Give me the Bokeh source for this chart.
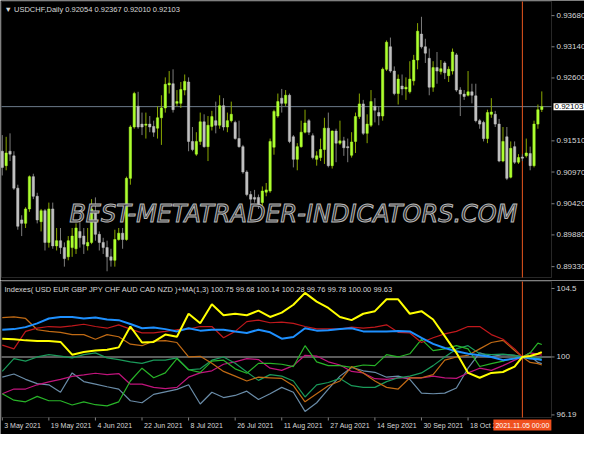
from bokeh.plotting import figure
from bokeh.models import Range1d, Label, ColumnDataSource, BoxAnnotation
from bokeh.core.properties import value
from bokeh.layouts import column
from bokeh.embed import file_html
from bokeh.resources import INLINE

# ---------------- data ----------------
symbol = "USDCHF,Daily"

opens = [0.9133, 0.9108, 0.9133, 0.9125, 0.9069, 0.9014, 0.9008, 0.9033, 0.9089, 0.9055,
         0.9011, 0.9030, 0.8975, 0.9033, 0.8969, 0.8978, 0.8966, 0.8950, 0.8966, 0.8964,
         0.8994, 0.8986, 0.8969, 0.8975, 0.9028, 0.8989, 0.8975, 0.8966, 0.8950, 0.8944,
         0.8980, 0.8991, 0.8980, 0.9086, 0.9175, 0.9211, 0.9180, 0.9178, 0.9180, 0.9176,
         0.9173, 0.9191, 0.9208, 0.9248, 0.9250, 0.9216, 0.9216, 0.9239, 0.9253, 0.9150,
         0.9128, 0.9150, 0.9184, 0.9141, 0.9176, 0.9186, 0.9178, 0.9212, 0.9175, 0.9186,
         0.9183, 0.9155, 0.9141, 0.9097, 0.9058, 0.9053, 0.9053, 0.9044, 0.9062, 0.9064,
         0.9140, 0.9194, 0.9225, 0.9216, 0.9230, 0.9158, 0.9119, 0.9141, 0.9166, 0.9186,
         0.9160, 0.9119, 0.9122, 0.9136, 0.9173, 0.9108, 0.9168, 0.9147, 0.9151, 0.9141,
         0.9126, 0.9150, 0.9193, 0.9215, 0.9164, 0.9178, 0.9211, 0.9200, 0.9194, 0.9275,
         0.9314, 0.9272, 0.9233, 0.9246, 0.9241, 0.9236, 0.9255, 0.9291, 0.9336, 0.9314,
         0.9294, 0.9244, 0.9278, 0.9271, 0.9286, 0.9264, 0.9272, 0.9300, 0.9239, 0.9232,
         0.9230, 0.9236, 0.9229, 0.9186, 0.9183, 0.9155, 0.9197, 0.9197, 0.9180, 0.9116,
         0.9158, 0.9088, 0.9141, 0.9114, 0.9123, 0.9125, 0.9129, 0.9108, 0.9180, 0.92054]
highs = [0.9161, 0.9158, 0.9164, 0.9133, 0.9075, 0.9022, 0.9036, 0.9091, 0.9094, 0.9061,
         0.9033, 0.9033, 0.9044, 0.9044, 0.9000, 0.9000, 0.8975, 0.8986, 0.9000, 0.9008,
         0.9022, 0.9000, 0.9000, 0.9050, 0.9053, 0.8994, 0.8983, 0.8978, 0.8964, 0.8997,
         0.9000, 0.9000, 0.9089, 0.9178, 0.9236, 0.9236, 0.9200, 0.9200, 0.9194, 0.9186,
         0.9211, 0.9230, 0.9261, 0.9272, 0.9275, 0.9239, 0.9253, 0.9266, 0.9261, 0.9175,
         0.9166, 0.9200, 0.9197, 0.9194, 0.9203, 0.9219, 0.9230, 0.9225, 0.9200, 0.9219,
         0.9186, 0.9186, 0.9144, 0.9100, 0.9064, 0.9066, 0.9058, 0.9072, 0.9078, 0.9155,
         0.9205, 0.9233, 0.9241, 0.9239, 0.9233, 0.9161, 0.9147, 0.9186, 0.9205, 0.9189,
         0.9164, 0.9133, 0.9155, 0.9191, 0.9200, 0.9169, 0.9172, 0.9186, 0.9158, 0.9155,
         0.9166, 0.9200, 0.9233, 0.9222, 0.9197, 0.9239, 0.9225, 0.9211, 0.9278, 0.9325,
         0.9330, 0.9280, 0.9266, 0.9266, 0.9261, 0.9289, 0.9300, 0.9355, 0.9366, 0.9328,
         0.9311, 0.9289, 0.9305, 0.9291, 0.9289, 0.9280, 0.9311, 0.9303, 0.9244, 0.9239,
         0.9272, 0.9250, 0.9250, 0.9189, 0.9186, 0.9205, 0.9225, 0.9203, 0.9189, 0.9175,
         0.9175, 0.9150, 0.9150, 0.9128, 0.9128, 0.9155, 0.9141, 0.9186, 0.9214, 0.92367]
lows = [0.9091, 0.9100, 0.9116, 0.9066, 0.8997, 0.8986, 0.9000, 0.9028, 0.9050, 0.9008,
        0.8994, 0.8961, 0.8966, 0.8964, 0.8961, 0.8955, 0.8933, 0.8944, 0.8950, 0.8955,
        0.8966, 0.8955, 0.8961, 0.8972, 0.8978, 0.8961, 0.8955, 0.8925, 0.8933, 0.8933,
        0.8978, 0.8964, 0.8978, 0.9075, 0.9172, 0.9172, 0.9161, 0.9155, 0.9166, 0.9158,
        0.9155, 0.9144, 0.9200, 0.9233, 0.9200, 0.9211, 0.9208, 0.9230, 0.9133, 0.9133,
        0.9125, 0.9144, 0.9139, 0.9116, 0.9169, 0.9164, 0.9172, 0.9169, 0.9166, 0.9183,
        0.9153, 0.9139, 0.9094, 0.9055, 0.9039, 0.9044, 0.9033, 0.9030, 0.9055, 0.9061,
        0.9127, 0.9191, 0.9200, 0.9211, 0.9147, 0.9105, 0.9100, 0.9139, 0.9164, 0.9161,
        0.9119, 0.9108, 0.9116, 0.9111, 0.9105, 0.9103, 0.9114, 0.9144, 0.9125, 0.9114,
        0.9122, 0.9130, 0.9189, 0.9161, 0.9147, 0.9175, 0.9183, 0.9178, 0.9186, 0.9272,
        0.9269, 0.9230, 0.9214, 0.9230, 0.9222, 0.9233, 0.9247, 0.9275, 0.9311, 0.9286,
        0.9230, 0.9236, 0.9250, 0.9266, 0.9258, 0.9253, 0.9266, 0.9236, 0.9194, 0.9222,
        0.9228, 0.9216, 0.9183, 0.9172, 0.9150, 0.9147, 0.9191, 0.9175, 0.9114, 0.9114,
        0.9083, 0.9086, 0.9111, 0.9111, 0.9116, 0.9122, 0.9100, 0.9105, 0.9172, 0.92010]
closes = [0.9105, 0.9130, 0.9128, 0.9069, 0.9003, 0.9008, 0.9033, 0.9089, 0.9055, 0.9014,
          0.9030, 0.8975, 0.9033, 0.8969, 0.8978, 0.8966, 0.8947, 0.8978, 0.8986, 0.9000,
          0.8983, 0.8972, 0.8975, 0.9033, 0.8989, 0.8975, 0.8966, 0.8950, 0.8944, 0.8980,
          0.8991, 0.8980, 0.9086, 0.9175, 0.9233, 0.9175, 0.9175, 0.9180, 0.9175, 0.9166,
          0.9191, 0.9208, 0.9249, 0.9251, 0.9205, 0.9219, 0.9240, 0.9254, 0.9150, 0.9136,
          0.9150, 0.9184, 0.9141, 0.9178, 0.9193, 0.9178, 0.9212, 0.9175, 0.9186, 0.9197,
          0.9155, 0.9141, 0.9097, 0.9058, 0.9050, 0.9050, 0.9041, 0.9064, 0.9066, 0.9150,
          0.9202, 0.9219, 0.9216, 0.9230, 0.9150, 0.9119, 0.9141, 0.9166, 0.9182, 0.9166,
          0.9122, 0.9125, 0.9136, 0.9173, 0.9108, 0.9168, 0.9147, 0.9151, 0.9139, 0.9139,
          0.9149, 0.9193, 0.9215, 0.9164, 0.9180, 0.9219, 0.9204, 0.9194, 0.9275, 0.9322,
          0.9272, 0.9233, 0.9258, 0.9241, 0.9244, 0.9258, 0.9291, 0.9341, 0.9314, 0.9303,
          0.9244, 0.9278, 0.9272, 0.9276, 0.9269, 0.9275, 0.9305, 0.9239, 0.9232, 0.9228,
          0.9236, 0.9230, 0.9186, 0.9180, 0.9155, 0.9200, 0.9201, 0.9180, 0.9116, 0.9150,
          0.9086, 0.9138, 0.9114, 0.9122, 0.9121, 0.9130, 0.9108, 0.9180, 0.9205, 0.92103]

date_idx = [0, 12, 24, 36, 48, 60, 72, 84, 96, 108, 120]
date_labels = ["3 May 2021", "19 May 2021", "4 Jun 2021", "22 Jun 2021", "8 Jul 2021",
               "26 Jul 2021", "11 Aug 2021", "27 Aug 2021", "14 Sep 2021", "30 Sep 2021",
               "18 Oct 2021"]
marker_idx = 134
marker_label = "2021.11.05 00:00"

price_ticks = [0.93680, 0.93140, 0.92600, 0.91510, 0.90970, 0.90420, 0.89880, 0.89330]
index_ticks = [104.5, 100.0, 96.19]
index_tick_labels = ["104.5", "100", "96.19"]

currencies = ["USD", "EUR", "GBP", "JPY", "CHF", "AUD", "CAD", "NZD"]
index_last = [100.75, 99.68, 100.14, 100.28, 99.76, 99.78, 100.00, 99.63]

line_idx = [0, 3, 6, 9, 12, 15, 18, 21, 24, 27, 30, 33, 36, 39, 42, 45, 48, 51, 54, 57,
            60, 63, 66, 69, 72, 75, 78, 81, 84, 87, 90, 93, 96, 99, 102, 105, 108, 111,
            114, 117, 120, 123, 126, 129, 132, 134, 136, 138, 139]

usd = [97.58, 97.16, 97.05, 97.41, 97.12, 97.12, 96.84, 97.05, 96.86, 96.78, 97.05, 98.42,
       99.26, 98.63, 98.95, 99.89, 99.16, 98.99, 99.73, 99.79, 99.22, 98.93, 99.58, 99.58,
       99.52, 99.37, 100.74, 99.68, 99.43, 99.43, 99.31, 99.47, 99.43, 100.15, 100.00,
       100.21, 101.16, 100.42, 100.53, 100.74, 100.53, 99.37, 99.56, 99.73, 99.94, 100.00,
       100.27, 100.91, 100.82]
eur = [98.67, 98.88, 98.53, 98.25, 98.17, 97.68, 98.95, 98.38, 98.21, 98.04, 97.89, 97.12,
       96.99, 97.54, 97.71, 97.87, 98.17, 96.91, 97.68, 97.33, 97.47, 97.75, 97.20, 97.58,
       98.00, 97.68, 96.42, 96.99, 97.89, 98.74, 99.31, 99.09, 98.99, 98.67, 98.74, 98.53,
       97.62, 97.58, 97.62, 97.96, 99.26, 100.27, 100.02, 100.15, 100.11, 100.00, 100.06,
       99.64, 99.56]
gbp = [100.78, 100.53, 101.68, 101.89, 102.00, 101.96, 102.04, 102.15, 102.00, 101.89,
       102.11, 101.83, 101.58, 101.58, 101.68, 101.79, 101.83, 102.00, 102.00, 101.26,
       101.68, 102.32, 102.42, 102.25, 102.29, 102.21, 102.00, 101.85, 101.85, 101.83,
       101.96, 101.89, 101.96, 102.11, 101.62, 101.58, 100.95, 101.26, 101.52, 101.68,
       102.00, 102.00, 101.47, 101.16, 100.53, 100.00, 100.11, 100.15, 100.21]
jpy = [101.20, 101.16, 101.09, 101.05, 101.05, 100.99, 100.15, 100.32, 100.42, 100.48,
       100.63, 102.00, 100.95, 100.99, 101.47, 101.33, 102.84, 102.21, 103.47, 102.74,
       102.84, 102.74, 103.05, 102.63, 102.91, 103.43, 104.21, 103.64, 103.22, 102.63,
       102.42, 102.84, 103.01, 103.79, 103.79, 102.84, 103.01, 102.46, 101.37, 100.27,
       98.95, 98.63, 98.95, 99.01, 99.37, 100.00, 100.06, 100.21, 100.32]
chf = [101.79, 101.83, 101.96, 102.21, 102.53, 102.63, 102.63, 102.53, 102.59, 102.46,
       102.42, 102.17, 101.89, 101.94, 101.83, 101.68, 101.89, 101.73, 101.79, 101.79,
       101.68, 101.58, 101.79, 101.62, 101.20, 101.31, 101.89, 101.73, 101.75, 101.83,
       101.89, 101.68, 101.68, 101.68, 101.71, 101.68, 101.26, 100.86, 100.59, 100.38,
       100.21, 100.11, 100.00, 99.79, 99.89, 100.00, 99.89, 99.85, 99.79]
aud = [99.05, 99.89, 99.73, 100.00, 100.15, 100.06, 99.94, 100.15, 100.27, 99.94, 99.83,
       99.68, 99.58, 99.79, 99.79, 99.94, 99.16, 99.22, 99.79, 100.00, 99.58, 99.01, 98.46,
       98.84, 98.74, 98.42, 97.37, 98.17, 98.32, 98.59, 98.11, 98.00, 98.00, 98.38, 98.63,
       98.74, 98.95, 99.43, 100.00, 100.53, 100.74, 100.21, 100.15, 100.19, 100.11, 100.00,
       100.02, 99.89, 99.94]
cad = [97.58, 97.89, 97.89, 98.17, 98.36, 98.53, 98.72, 98.82, 98.93, 98.84, 98.91, 98.21,
       98.21, 98.00, 97.92, 98.00, 98.67, 98.95, 99.09, 99.52, 99.68, 99.89, 99.83, 99.26,
       99.12, 99.43, 100.11, 100.06, 99.68, 99.47, 99.05, 98.95, 98.57, 98.53, 98.63, 98.63,
       98.63, 98.74, 98.63, 98.59, 98.95, 99.26, 99.12, 99.43, 99.79, 100.00, 100.27,
       100.19, 100.11]
nzd = [102.59, 102.63, 102.53, 101.79, 101.68, 101.62, 101.47, 101.47, 101.16, 101.47,
       101.33, 100.84, 100.74, 101.05, 101.07, 100.95, 100.00, 100.04, 99.58, 99.05, 98.74,
       98.42, 98.67, 98.63, 98.59, 98.11, 97.05, 97.58, 98.11, 98.42, 99.37, 98.95, 98.42,
       98.00, 97.89, 98.63, 98.63, 98.84, 99.79, 100.00, 100.11, 100.53, 100.95, 101.09,
       100.42, 100.00, 99.64, 99.56, 99.47]

# ---------------- style ----------------
FONT = "Liberation Sans"
BG = "#000000"
FRAME = "#808080"
FG = "#d8d8d8"
BULL_BODY, BEAR_BODY = "#ADFF2F", "#C0C0C0"
BULL_WICK, BEAR_WICK = "#8AA800", "#7C7C7C"
MARK = "#E8561E"

series = [  # draw order (bottom -> top)
    ("EUR", eur, "#6A8CA8", 1.2),
    ("CAD", cad, "#C0147C", 1.2),
    ("AUD", aud, "#1A9A5A", 1.2),
    ("USD", usd, "#28B428", 1.2),
    ("NZD", nzd, "#C06A14", 1.2),
    ("GBP", gbp, "#C0181C", 1.2),
    ("CHF", chf, "#1E90FF", 2),
    ("JPY", jpy, "#FFFF00", 2),
]

# ---------------- geometry (pixels -> data) ----------------
W = 584
P1_H, P2_H = 280, 154
CH_X0, CH_X1 = -0.2, 141.5          # chart area in bar units
PAD_L, PAD_R = 1, 33                # pixels left / right of chart area
bar_px = (W - PAD_L - PAD_R) / (CH_X1 - CH_X0)
xr = Range1d(CH_X0 - PAD_L / bar_px, CH_X1 + PAD_R / bar_px)


def dx(px):
    return px / bar_px


price_lo, price_hi = 0.89142, 0.93925
P1_T, P1_B = 1, 3
price_px = (P1_H - P1_T - P1_B) / (price_hi - price_lo)
yr1 = Range1d(price_lo - P1_B / price_px, price_hi + P1_T / price_px)

idx_lo, idx_hi = 96.02, 104.96
P2_T, P2_B = 1, 17
idx_px = (P2_H - P2_T - P2_B) / (idx_hi - idx_lo)
yr2 = Range1d(idx_lo - P2_B / idx_px, idx_hi + P2_T / idx_px)


def make_fig(h, yr):
    p = figure(width=W, height=h, x_range=xr, y_range=yr, output_backend="svg",
               toolbar_location=None, x_axis_location=None, y_axis_location=None,
               min_border=0, background_fill_color=BG, border_fill_color=BG,
               outline_line_color=None)
    p.xgrid.visible = False
    p.ygrid.visible = False
    return p


def right_scale(p, ticks, labels):
    p.segment(x0=[CH_X1] * len(ticks), x1=[CH_X1 + dx(3)] * len(ticks),
              y0=ticks, y1=ticks, line_color=FRAME, line_width=1)
    p.text(x=[CH_X1 + dx(5)] * len(ticks), y=ticks, text=labels,
           text_font=value(FONT), text_font_size=value("8px"), text_color=FG,
           text_align="left", text_baseline="middle")


# ---------------- top panel: candles ----------------
p1 = make_fig(P1_H, yr1)
p1.add_layout(BoxAnnotation(left=CH_X0, right=CH_X1, bottom=price_lo, top=price_hi,
                            fill_alpha=0, line_color=FRAME, line_width=1, level="underlay"))
right_scale(p1, price_ticks, [f"{t:.5f}" for t in price_ticks])

bull = [c >= o for o, c in zip(opens, closes)]
n = len(closes)
src = ColumnDataSource(dict(
    x=list(range(n)),
    high=highs, low=lows,
    top=[max(o, c) for o, c in zip(opens, closes)],
    bottom=[min(o, c) for o, c in zip(opens, closes)],
    wick=[BULL_WICK if b else BEAR_WICK for b in bull],
    body=[BULL_BODY if b else BEAR_BODY for b in bull],
))

p1.segment(x0=[CH_X0], x1=[CH_X1], y0=[closes[-1]], y1=[closes[-1]],
           line_color="#6C7B8B", line_width=1)
p1.segment(x0=[marker_idx], x1=[marker_idx], y0=[price_lo], y1=[price_hi],
           line_color=MARK, line_width=1)
p1.segment(x0="x", y0="high", x1="x", y1="low", color="wick", line_width=1, source=src)
p1.vbar(x="x", width=0.6, top="top", bottom="bottom", fill_color="body",
        line_color="body", line_width=0.5, source=src)

p1.add_layout(Label(x=CH_X0, y=price_hi, x_offset=3, y_offset=-3,
                    text="\u25bc " + symbol + "  " + " ".join(
                        f"{v:.5f}" for v in (opens[-1], highs[-1], lows[-1], closes[-1])),
                    text_font=FONT, text_font_size="7.5px", text_color=FG,
                    text_baseline="top", text_align="left"))

wm_common = dict(x=75, y=0.9024, text="BEST-METATRADER-INDICATORS.COM",
                 text_font="DejaVu Sans", text_font_style="italic",
                 text_font_size="24px", text_align="center", text_baseline="middle")
try:
    watermark = Label(text_color="#262626", text_outline_color="#b8b8b8", **wm_common)
except Exception:
    watermark = Label(text_color="#8c8c8c", text_alpha=0.8, **wm_common)
p1.add_layout(watermark)

p1.add_layout(Label(x=CH_X1 + dx(2), y=closes[-1], text=f"{closes[-1]:.5f}",
                    text_font=FONT, text_font_size="8px", text_color="black",
                    text_baseline="middle", text_align="left",
                    background_fill_color="white", padding=1))

# ---------------- bottom panel: indexes ----------------
p2 = make_fig(P2_H, yr2)
p2.add_layout(BoxAnnotation(left=CH_X0, right=CH_X1, bottom=idx_lo, top=idx_hi,
                            fill_alpha=0, line_color=FRAME, line_width=1, level="underlay"))
right_scale(p2, index_ticks, index_tick_labels)

# date ticks and labels under the frame
p2.segment(x0=date_idx, x1=date_idx, y0=[idx_lo] * len(date_idx),
           y1=[idx_lo - 3 / idx_px] * len(date_idx), line_color=FRAME, line_width=1)
p2.text(x=[d + dx(2) for d in date_idx], y=[idx_lo - 4 / idx_px] * len(date_idx),
        text=date_labels, text_font=value(FONT), text_font_size=value("7px"),
        text_color=FG, text_align="left", text_baseline="top")

p2.segment(x0=[CH_X0], x1=[CH_X1], y0=[100], y1=[100], line_color="#7a7a7a", line_width=1.5)
p2.segment(x0=[marker_idx], x1=[marker_idx], y0=[idx_lo], y1=[idx_hi],
           line_color=MARK, line_width=1)

for name, ys, col, lw in series:
    p2.line(line_idx, ys, line_color=col, line_width=lw)

p2.add_layout(Label(x=CH_X0, y=idx_hi, x_offset=3, y_offset=-3,
                    text="Indexes( " + " ".join(currencies) + " )+MA(1,3) " +
                    " ".join(f"{v:.2f}" for v in index_last),
                    text_font=FONT, text_font_size="7.5px", text_color=FG,
                    text_baseline="top", text_align="left"))

p2.add_layout(Label(x=marker_idx, y=idx_lo - 2 / idx_px, text=marker_label,
                    text_font=FONT, text_font_size="7px", text_color="white",
                    text_baseline="top", text_align="center",
                    background_fill_color="#F0501E", padding=2))

layout = column(p1, p2, spacing=0)
open("out.html", "w").write(file_html(layout, INLINE))
